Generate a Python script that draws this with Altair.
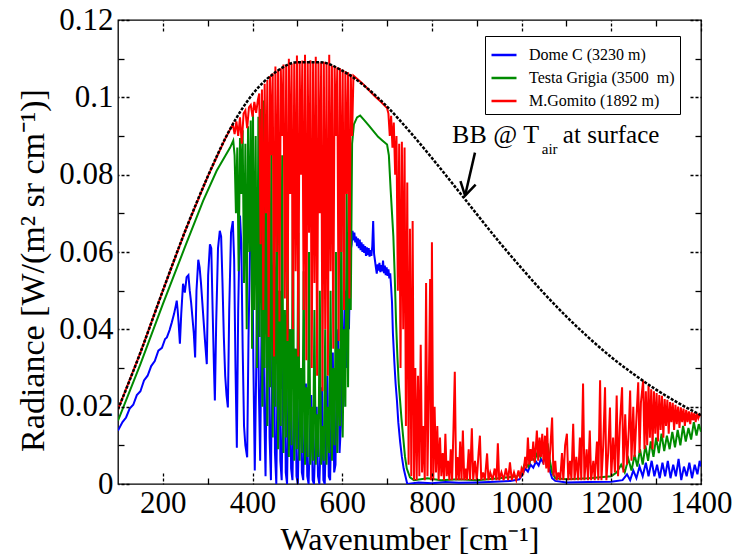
import altair as alt
import pandas as pd

FONT = "'Liberation Serif', 'Times New Roman', Times, serif"

SITES = ["Dome C (3230 m)", "Testa Grigia (3500\u00a0 m)", "M.Gomito (1892 m)"]
COLORS = ["#0000ff", "#008b00", "#ff0000"]

X_MAJOR = [200, 400, 600, 800, 1000, 1200, 1400]
X_MINOR = [300, 500, 700, 900, 1100, 1300]
Y_MAJOR = [0, 0.02, 0.04, 0.06, 0.08, 0.1, 0.12]
Y_MINOR = [0.01, 0.03, 0.05, 0.07, 0.09, 0.11]

# Black-body curve (wavenumber, radiance)
BB = [(100, .0193), (150, .0340), (200, .0500), (250, .0655), (300, .0795), (350, .0918),
      (400, .1008), (450, .1064), (500, .1091), (550, .1091), (600, .1069), (650, .1029),
      (700, .0976), (750, .0912), (800, .0843), (850, .0771), (900, .0698), (950, .0626),
      (1000, .0558), (1050, .0493), (1100, .0433), (1150, .0378), (1200, .0328), (1250, .0284),
      (1300, .0244), (1350, .0209), (1400, .0178)]

DOME_C = [(100, .0138), (110, .0160), (118, .0172), (126, .0195), (134, .0205), (142, .0230), (150, .0240),
          (158, .0268), (166, .0280), (174, .0305), (182, .0318), (190, .0345), (198, .0352), (205, .0375),
          (209, .0379),
          (215, .0398), (220, .0418), (225, .0440), (229, .0462), (231, .0474), (233, .0450), (235, .0420),
          (238, .0363), (241, .0440), (245, .0518), (249, .0495), (253, .0535), (257, .0540), (260, .0500),
          (263, .0470), (266, .0430), (269, .0390), (272, .0327), (275, .0500), (279, .0580), (282, .0560),
          (285, .0520), (288, .0470), (291, .0420), (294, .0370), (298, .0310), (301, .0540), (305, .0620),
          (308, .0610), (311, .0450), (314, .0300), (316, .0216), (319, .0420), (323, .0610), (327, .0655),
          (330, .0640), (333, .0520), (336, .0380), (339, .0280), (342, .0230), (345, .0198), (348, .0450),
          (352, .0650), (356, .0680), (359, .0580), (362, .0300), (365, .0094), (368, .0450), (372, .0694),
          (375, .0620), (378, .0350), (381, .0150), (384, .0100), (388, .0069), (391, .0380), (395, .0640),
          (399, .0680), (402, .0300), (405, .0035), (408, .0280), (411, .0600), (414, .0250), (417, .0060),
          (420, .0400), (423, .0670), (426, .0200), (429, .0020), (432, .0380), (435, .0620), (438, .0120),
          (441, .0010), (444, .0350), (447, .0560), (450, .0080), (453, .0000), (456, .0300), (459, .0500),
          (462, .0060), (465, .0010), (468, .0280), (471, .0450), (474, .0030), (477, .0000), (480, .0250),
          (483, .0400), (486, .0040), (489, .0010), (492, .0220), (495, .0350), (498, .0020), (501, .0000),
          (504, .0180), (507, .0300), (510, .0030), (513, .0010), (516, .0160), (519, .0260), (522, .0020),
          (525, .0000), (528, .0130), (531, .0230), (534, .0010), (537, .0000), (540, .0110), (543, .0200),
          (546, .0020), (549, .0000), (552, .0120), (555, .0250), (558, .0010), (561, .0000), (564, .0150),
          (567, .0280), (570, .0020), (573, .0010), (576, .0200), (579, .0340), (582, .0030), (585, .0050),
          (588, .0300), (591, .0400), (594, .0080), (597, .0150), (600, .0450), (603, .0200), (606, .0500),
          (609, .0300), (612, .0550), (615, .0400), (618, .0600), (621, .0620), (623, .0655), (625, .0630),
          (627, .0650), (629, .0625), (631, .0640), (633, .0615), (635, .0635), (637, .0610), (639, .0632),
          (641, .0605), (643, .0625), (645, .0600), (647, .0620), (649, .0598), (651, .0615), (653, .0590),
          (655, .0612), (657, .0592), (659, .0610), (661, .0588), (663, .0605), (665, .0590), (667, .0615),
          (669, .0680), (671, .0595), (673, .0578), (675, .0560), (677, .0544), (679, .0568), (681, .0552),
          (683, .0572), (685, .0548), (687, .0566), (689, .0550), (691, .0578), (693, .0545), (695, .0565),
          (697, .0540), (699, .0560), (701, .0538), (703, .0555), (705, .0532), (707, .0545), (709, .0510),
          (711, .0470), (713, .0390), (716, .0320), (719, .0260),
          (722, .0216), (725, .0160), (729, .0110), (733, .0070), (737, .0040), (741, .0020), (745, .0000),
          (770, .0004), (800, .0002), (830, .0005), (860, .0003), (900, .0004), (940, .0006), (975, .0008),
          (995, .0012), (1002, .0025), (1008, .0040), (1014, .0032), (1020, .0050), (1026, .0042),
          (1032, .0058), (1038, .0048), (1043, .0065), (1048, .0055), (1052, .0072), (1056, .0045),
          (1060, .0060), (1064, .0030), (1068, .0015), (1075, .0008), (1100, .0004), (1150, .0005),
          (1200, .0006), (1225, .0010), (1235, .0025), (1242, .0010), (1249, .0035), (1256, .0015),
          (1263, .0045), (1270, .0020), (1277, .0055), (1283, .0020), (1290, .0060), (1296, .0020),
          (1302, .0050), (1308, .0015), (1314, .0055), (1320, .0020), (1326, .0060), (1332, .0015),
          (1338, .0050), (1344, .0020), (1350, .0065), (1356, .0010), (1362, .0045), (1368, .0020),
          (1374, .0055), (1380, .0015), (1386, .0050), (1392, .0025), (1397, .0060), (1400, .0045)]

TESTA_GRIGIA = [(100, .0164), (150, .0310), (200, .0465), (250, .0615), (290, .0733), (320, .0810), (340, .0850),
                (350, .0870), (357, .0888), (360, .0850), (363, .0700), (366, .0870), (369, .0550), (372, .0895),
                (375, .0750), (378, .0915), (381, .0520), (384, .0880), (387, .0400), (390, .0925), (393, .0600),
                (396, .0940), (399, .0350), (401, .0960), (404, .0450), (407, .0900), (410, .0300), (413, .0950),
                (416, .0380), (419, .0970), (422, .0200), (424, .0992), (427, .0300), (430, .0850), (433, .0150),
                (436, .0700), (439, .0250), (442, .0900), (445, .0120), (448, .0600), (451, .0200), (454, .0800),
                (457, .0090), (460, .0500), (463, .0150), (466, .0850), (469, .0080), (472, .0450), (475, .0120),
                (478, .0700), (481, .0070), (484, .0400), (487, .0100), (490, .0750), (493, .0060), (496, .0350),
                (499, .0090), (502, .0650), (505, .0060), (508, .0300), (511, .0080), (514, .0550), (517, .0050),
                (520, .0250), (523, .0070), (526, .0600), (529, .0050), (532, .0200), (535, .0060), (538, .0450),
                (541, .0050), (544, .0180), (547, .0070), (550, .0500), (553, .0050), (556, .0150), (559, .0060),
                (562, .0400), (565, .0050), (568, .0200), (571, .0080), (574, .0500), (577, .0060), (580, .0300),
                (583, .0100), (586, .0600), (589, .0080), (592, .0350), (595, .0150), (598, .0700), (601, .0120),
                (604, .0400), (607, .0200), (610, .0750), (613, .0250), (616, .0800), (619, .0450), (622, .0880),
                (626, .0930), (633, .0948), (640, .0953), (650, .0940), (660, .0926), (670, .0912), (680, .0898),
                (690, .0888), (700, .0878), (704, .0850), (708, .0760), (711, .0700), (714, .0640), (717, .0540),
                (720, .0420), (723, .0330), (726, .0260), (729, .0216), (732, .0170), (736, .0120), (740, .0070),
                (744, .0040), (751, .0017), (760, .0010), (790, .0015), (820, .0010), (860, .0012), (900, .0010),
                (950, .0015), (990, .0020), (1000, .0030), (1008, .0055), (1015, .0045), (1022, .0070),
                (1029, .0060), (1036, .0085), (1042, .0070), (1048, .0095), (1054, .0075), (1058, .0105),
                (1063, .0060), (1068, .0030), (1075, .0015), (1100, .0012), (1150, .0015), (1200, .0020),
                (1212, .0030), (1222, .0050), (1230, .0030), (1238, .0065), (1245, .0035), (1252, .0075),
                (1258, .0045), (1264, .0090), (1270, .0050), (1276, .0100), (1282, .0060), (1288, .0110),
                (1294, .0070), (1300, .0120), (1306, .0080), (1312, .0130), (1318, .0085), (1324, .0125),
                (1330, .0090), (1336, .0135), (1342, .0095), (1348, .0140), (1354, .0100), (1360, .0150),
                (1366, .0110), (1372, .0145), (1378, .0115), (1384, .0160), (1390, .0125), (1395, .0155),
                (1400, .0135)]

M_GOMITO = [(100, .0193), (150, .0340), (200, .0500), (250, .0655), (300, .0795), (340, .0895), (356, .0930),
            (360, .0905), (364, .0938), (368, .0900), (372, .0948), (376, .0880), (380, .0958), (384, .0966),
            (388, .0920), (392, .0974), (396, .0980), (400, .0950), (404, .0988), (408, .0960), (412, .0994),
            (415, .1010), (418, .0620), (421, .1020), (424, .0450), (427, .1035), (430, .0700), (433, .1045),
            (436, .0380), (439, .1055), (442, .0850), (445, .1062), (448, .0330), (451, .1080), (454, .0600),
            (457, .1070), (460, .0420), (463, .1075), (466, .0900), (469, .1085), (472, .0480), (475, .1082),
            (478, .0370), (481, .1100), (484, .0750), (487, .1087), (490, .0400), (493, .1090), (496, .0550),
            (499, .1108), (502, .0330), (505, .1092), (508, .0800), (511, .1095), (514, .0450), (517, .1110),
            (520, .0320), (523, .1094), (526, .0650), (529, .1096), (532, .0300), (535, .1093), (538, .0520),
            (541, .1105), (544, .0280), (547, .1092), (550, .0700), (553, .1090), (556, .0240), (559, .1092),
            (562, .0400), (565, .1088), (568, .0280), (571, .1110), (574, .0550), (577, .1082), (580, .0350),
            (583, .1080), (586, .0900), (589, .1078), (592, .0370), (595, .1075), (598, .0600), (601, .1072),
            (604, .0450), (607, .1068), (610, .0750), (613, .1065), (616, .0480), (619, .1060), (622, .0900),
            (625, .1056), (635, .1046), (645, .1036), (655, .1024), (665, .1012), (675, .1000), (685, .0990),
            (695, .0978), (700, .0972), (703, .0958), (706, .0900), (709, .0952), (712, .0870), (715, .0935),
            (718, .0800), (721, .0900), (724, .0500), (727, .0880), (730, .0300), (733, .0885), (736, .0400),
            (739, .0870), (742, .0150), (745, .0780), (748, .0050), (751, .0660), (754, .0020), (757, .0680),
            (760, .0010), (763, .0300), (766, .0010), (769, .0280), (772, .0020), (775, .0360), (778, .0030),
            (781, .0150), (784, .0010), (787, .0520), (790, .0020), (793, .0240), (796, .0530), (798, .0010),
            (800, .0625), (803, .0010), (806, .0200), (809, .0030), (812, .0150), (815, .0010), (818, .0120),
            (821, .0020), (824, .0080), (827, .0010), (830, .0130), (833, .0020), (836, .0060), (839, .0010),
            (842, .0090), (845, .0010), (848, .0140), (851, .0290), (854, .0010), (857, .0070), (860, .0010),
            (863, .0110), (866, .0010), (869, .0138), (872, .0010), (875, .0040), (878, .0010), (882, .0090),
            (885, .0010), (889, .0144), (892, .0010), (896, .0060), (900, .0010), (904, .0080), (907, .0125),
            (910, .0010), (914, .0030), (918, .0010), (923, .0079), (926, .0010), (930, .0030), (935, .0010),
            (940, .0040), (944, .0010), (947, .0105), (950, .0010), (955, .0030), (960, .0010), (965, .0040),
            (970, .0010), (974, .0056), (978, .0010), (983, .0030), (988, .0010), (993, .0035), (997, .0015),
            (1000, .0040), (1004, .0030), (1008, .0070), (1011, .0040), (1014, .0120), (1017, .0050),
            (1020, .0090), (1023, .0060), (1026, .0110), (1029, .0055), (1032, .0100), (1034, .0138),
            (1037, .0060), (1040, .0120), (1043, .0070), (1046, .0130), (1049, .0050), (1052, .0125),
            (1055, .0040), (1057, .0146), (1060, .0030), (1064, .0090), (1068, .0172), (1071, .0020),
            (1075, .0060), (1078, .0010), (1082, .0030), (1086, .0010), (1090, .0080), (1093, .0010),
            (1097, .0100), (1101, .0130), (1104, .0010), (1108, .0060), (1111, .0010), (1115, .0156),
            (1118, .0010), (1122, .0070), (1126, .0010), (1130, .0120), (1133, .0010), (1137, .0260),
            (1140, .0010), (1145, .0090), (1148, .0010), (1152, .0138), (1155, .0010), (1160, .0060),
            (1163, .0010), (1168, .0110), (1171, .0010), (1175, .0268), (1178, .0010), (1182, .0100),
            (1186, .0250), (1189, .0010), (1193, .0080), (1197, .0198), (1200, .0020), (1204, .0120),
            (1208, .0030), (1212, .0229), (1215, .0020), (1219, .0150), (1224, .0250), (1227, .0030),
            (1231, .0180), (1235, .0050), (1239, .0140), (1242, .0242), (1245, .0060), (1249, .0200),
            (1252, .0070), (1256, .0170), (1260, .0263), (1263, .0080), (1266, .0210), (1271, .0268),
            (1274, .0090), (1277, .0240), (1280, .0100), (1283, .0255), (1286, .0120), (1289, .0245),
            (1292, .0090), (1295, .0240), (1298, .0130), (1301, .0235), (1304, .0110), (1307, .0230),
            (1310, .0140), (1313, .0228), (1316, .0120), (1319, .0220), (1322, .0150), (1325, .0218),
            (1328, .0130), (1331, .0212), (1334, .0160), (1337, .0210), (1340, .0140), (1343, .0205),
            (1346, .0155), (1349, .0200), (1352, .0145), (1355, .0198), (1358, .0160), (1361, .0195),
            (1364, .0150), (1367, .0192), (1370, .0160), (1373, .0188), (1376, .0155), (1379, .0186),
            (1382, .0165), (1385, .0184), (1388, .0160), (1391, .0182), (1394, .0170), (1397, .0180),
            (1400, .0176)]

# Annotation text and arrow (data coordinates)
ANNOT_TEXT = ["BB @ T", "air", "at surface"]
ANNOT_WN = [845, 1045, 1092]
ANNOT_RAD = [0.0881, 0.0853, 0.0881]
ANNOT_SIZE = [26, 15, 25]
ARROW_WN = [896, 874]
ARROW_RAD = [0.0857, 0.0746]


def frame(pairs, site=None):
    d = pd.DataFrame({"wn": [p[0] for p in pairs], "rad": [p[1] for p in pairs]})
    if site is not None:
        d["site"] = site
    return d


xs = alt.Scale(domain=[100, 1400], nice=False, zero=False)
ys = alt.Scale(domain=[0, 0.12], nice=False, zero=False)


def mk_axis(orient, values, size, dash=None, labels=False, title=None, fmt=None, pad=5, tpad=5,
            tsize=32, title_y=None):
    kw = dict(orient=orient, values=values, tickSize=size, offset=-size, domain=False, grid=False,
              labels=labels, ticks=True, tickColor="black", tickWidth=1.3, title=title, zindex=1)
    if dash:
        kw["tickDash"] = dash
    if labels:
        kw.update(labelFont=FONT, labelFontSize=31, labelColor="black", labelPadding=pad,
                  labelFlush=False, labelOverlap=False, format=fmt)
    if title:
        kw.update(titleFont=FONT, titleFontSize=tsize, titleFontWeight="normal", titleColor="black",
                  titlePadding=tpad)
    if title_y is not None:
        kw["titleY"] = title_y
    return alt.Axis(**kw)


legend = alt.Legend(orient="none", legendX=367, legendY=16, title=None, symbolType="stroke",
                    symbolSize=625, symbolStrokeWidth=2.5, labelFont=FONT, labelFontSize=16,
                    labelColor="black", labelOffset=11, strokeColor="black", fillColor="white",
                    padding=5, rowPadding=1, cornerRadius=0)
color = alt.Color("site:N", scale=alt.Scale(domain=SITES, range=COLORS), legend=legend)

DASH = [3, 2]

blue = alt.Chart(frame(DOME_C, SITES[0])).mark_line(strokeWidth=2, clip=True).encode(
    x=alt.X("wn:Q", scale=xs, axis=mk_axis("bottom", X_MAJOR, 11, DASH, True, "Wavenumber [cm⁻¹]", "d", 4, 6)),
    y=alt.Y("rad:Q", scale=ys, axis=mk_axis("left", Y_MAJOR, 11, DASH, True, "Radiance [W/(m² sr cm⁻¹)]",
                                            ".2~f", 5, 8, 34, 250)),
    color=color,
)
green = alt.Chart(frame(TESTA_GRIGIA, SITES[1])).mark_line(strokeWidth=2, clip=True).encode(
    x=alt.X("wn:Q", scale=xs, axis=mk_axis("bottom", X_MINOR, 6)),
    y=alt.Y("rad:Q", scale=ys, axis=mk_axis("left", Y_MINOR, 6)),
    color=color,
)
red = alt.Chart(frame(M_GOMITO, SITES[2])).mark_line(strokeWidth=2, clip=True).encode(
    x=alt.X("wn:Q", scale=xs, axis=mk_axis("top", X_MAJOR, 11, DASH)),
    y=alt.Y("rad:Q", scale=ys, axis=mk_axis("right", Y_MAJOR, 11, DASH)),
    color=color,
)
bb = alt.Chart(frame(BB)).mark_line(color="black", strokeWidth=2.5, strokeDash=[3, 1.5],
                                   interpolate="monotone", clip=True).encode(
    x=alt.X("wn:Q", scale=xs, axis=mk_axis("top", X_MINOR, 6)),
    y=alt.Y("rad:Q", scale=ys, axis=mk_axis("right", Y_MINOR, 6)),
)

annot_df = pd.DataFrame({"t": ANNOT_TEXT, "wn": ANNOT_WN, "rad": ANNOT_RAD, "s": ANNOT_SIZE})
annot = alt.Chart(annot_df).mark_text(align="left", baseline="alphabetic", font=FONT, color="black").encode(
    x=alt.X("wn:Q", scale=xs, axis=None),
    y=alt.Y("rad:Q", scale=ys, axis=None),
    text="t:N",
    size=alt.Size("s:Q", scale=None, legend=None),
)

arrow_df = pd.DataFrame({"wn": [ARROW_WN[0]], "rad": [ARROW_RAD[0]], "wn2": [ARROW_WN[1]], "rad2": [ARROW_RAD[1]]})
shaft = alt.Chart(arrow_df).mark_rule(color="black", strokeWidth=2.5).encode(
    x=alt.X("wn:Q", scale=xs, axis=None),
    y=alt.Y("rad:Q", scale=ys, axis=None),
    x2="wn2:Q",
    y2="rad2:Q",
)
head = alt.Chart(arrow_df).mark_point(shape="M-0.6,-1L0,0L0.6,-1", filled=False, color="black",
                                      strokeWidth=2.5, size=676, angle=13, opacity=1).encode(
    x=alt.X("wn2:Q", scale=xs, axis=None),
    y=alt.Y("rad2:Q", scale=ys, axis=None),
)

chart = alt.layer(blue, green, red, bb, annot, shaft, head).resolve_axis(
    x="independent", y="independent"
).properties(
    width=583, height=464,
    autosize=alt.AutoSizeParams(type="none"),
    padding={"left": 118, "top": 20, "right": 36, "bottom": 74},
    background="white",
).configure_view(stroke="black", strokeWidth=1.3)

chart.save("out.html", embed_options={"renderer": "svg", "actions": False})
